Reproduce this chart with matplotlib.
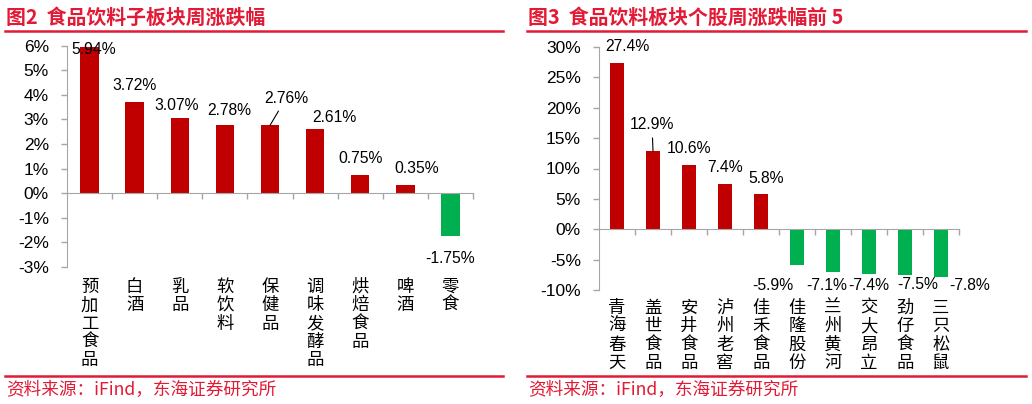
import matplotlib
matplotlib.use('Agg')
import matplotlib.pyplot as plt
from matplotlib.lines import Line2D
from matplotlib.transforms import offset_copy, blended_transform_factory
import numpy as np

plt.rcParams['font.family'] = ['Liberation Sans', 'Noto Sans CJK SC', 'DejaVu Sans']
plt.rcParams['axes.unicode_minus'] = False
CJK = ['Noto Sans CJK SC', 'DejaVu Sans']

# ---------------- data ----------------
left_title = '图2  食品饮料子板块周涨跌幅'
left_categories = ['预加工食品', '白酒', '乳品', '软饮料', '保健品', '调味发酵品', '烘焙食品', '啤酒', '零食']
left_values = [5.94, 3.72, 3.07, 2.78, 2.76, 2.61, 0.75, 0.35, -1.75]
left_yticks = [-3, -2, -1, 0, 1, 2, 3, 4, 5, 6]

right_title = '图3  食品饮料板块个股周涨跌幅前 5'
right_categories = ['青海春天', '盖世食品', '安井食品', '泸州老窖', '佳禾食品',
                    '佳隆股份', '兰州黄河', '交大昂立', '劲仔食品', '三只松鼠']
right_values = [27.4, 12.9, 10.6, 7.4, 5.8, -5.9, -7.1, -7.4, -7.5, -7.8]
right_yticks = [-10, -5, 0, 5, 10, 15, 20, 25, 30]

source_text = '资料来源：iFind，东海证券研究所'

# ---------------- style ----------------
W, H = 1032, 404
RED_BAR = '#C00000'
GREEN_BAR = '#00B050'
RED_T = '#E21A35'
GRAY = '#A6A6A6'

# label offsets in pixels (dx, dy) relative to bar end; leader flags
left_offsets = [(4, -2), (0, 16), (-3, 12), (4, 14), (16, 27), (19, 12), (0, 16), (11, 16), (0, -22)]
left_leaders = [False, False, False, False, True, False, False, False, False]
right_offsets = [(10, 16), (-1, 26), (0, 16), (0, 17), (5, 16),
                 (-24, -20), (-6, -13), (0, -11), (13, -10), (29, -9)]
right_leaders = [False, True, False, False, False, False, False, False, False, False]

fig = plt.figure(figsize=(W / 100, H / 100), dpi=100)


def px_axes(l, r, t, b):
    return fig.add_axes([l / W, 1 - b / H, (r - l) / W, (b - t) / H])


def draw(ax, cats, vals, yticks, fmt, offsets, leaders, gap):
    x = np.arange(len(cats))
    colors = [RED_BAR if v >= 0 else GREEN_BAR for v in vals]
    ax.bar(x, vals, width=0.41, color=colors, zorder=2)
    ax.set_xlim(-0.5, len(cats) - 0.5)
    ax.set_ylim(yticks[0], yticks[-1])
    ax.set_yticks(yticks)
    ax.set_yticklabels([f'{t:g}%' for t in yticks])
    for s in ['top', 'right']:
        ax.spines[s].set_visible(False)
    ax.spines['bottom'].set_position(('data', 0))
    ax.spines['bottom'].set_color(GRAY)
    ax.spines['left'].set_color(GRAY)
    ax.spines['bottom'].set_zorder(3)
    ax.set_xticks([])
    ax.set_xticks(x + 0.5, minor=True)
    ax.tick_params(axis='x', which='minor', direction='out', length=4, color=GRAY, width=1)
    ax.tick_params(axis='y', direction='out', length=4, color=GRAY, width=1, pad=9,
                   labelsize=12.5, labelcolor='black')
    ax.patch.set_alpha(0)
    for i, (v, (dx, dy), ld) in enumerate(zip(vals, offsets, leaders)):
        kw = {}
        if ld:
            kw['arrowprops'] = dict(arrowstyle='-', color='black', lw=0.8, shrinkA=2, shrinkB=0)
        ax.annotate(fmt.format(v), xy=(i, v), xytext=(dx, dy), textcoords='offset pixels',
                    ha='center', va='center', fontsize=11.3, color='black', zorder=4, **kw)
    trans = blended_transform_factory(ax.transData, ax.transAxes)
    tr = offset_copy(trans, fig=fig, x=0, y=-gap, units='dots')
    for i, c in enumerate(cats):
        ax.text(i, 0, '\n'.join(c), transform=tr, ha='center', va='top',
                family=CJK, fontsize=12.5, linespacing=1.02, color='black')


axL = px_axes(67, 473, 45.7, 267)
draw(axL, left_categories, left_values, left_yticks, '{:.2f}%', left_offsets, left_leaders, 11)

axR = px_axes(599, 959, 47, 290)
draw(axR, right_categories, right_values, right_yticks, '{:.1f}%', right_offsets, right_leaders, 9)

# titles, rules and sources
for x0, x1, title in [(5, 503, left_title), (527, 1026, right_title)]:
    fig.text((x0 + 1) / W, 1 - 17 / H, title, color=RED_T, fontsize=14.3, weight='bold',
             ha='left', va='center', family=CJK)
    fig.add_artist(Line2D([x0 / W, x1 / W], [1 - 31 / H] * 2, color=RED_T, lw=1.8))
    fig.add_artist(Line2D([x0 / W, x1 / W], [1 - 375.5 / H] * 2, color=RED_T, lw=1.8))
    fig.text((x0 + 1) / W, 1 - 390 / H, source_text, color=RED_T, fontsize=12.7,
             ha='left', va='center', family=CJK)

fig.savefig('out.png', dpi=100)
